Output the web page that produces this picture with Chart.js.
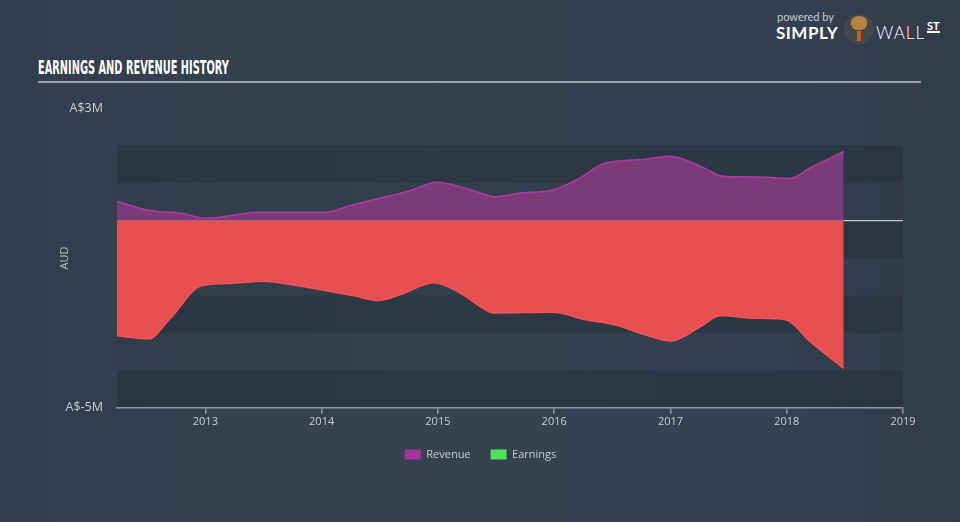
<!DOCTYPE html>
<html>
<head>
<meta charset="utf-8">
<script src="https://cdn.jsdelivr.net/npm/chart.js@4.4.0/dist/chart.umd.min.js"></script>
<style>
  html, body { margin: 0; padding: 0; }
  body {
    width: 960px; height: 522px; overflow: hidden; position: relative;
    background: linear-gradient(90deg, #323e4d 0%, #35424f 45%, #344151 80%, #313c49 100%);
    font-family: 'Open Sans', sans-serif;
  }
  #title {
    position: absolute; left: 38px; top: 55px;
    font-family: 'Liberation Sans Narrow', 'DejaVu Sans Condensed', sans-serif;
    font-weight: bold; font-size: 20px; color: #ffffff; white-space: nowrap;
    transform-origin: 0 0; letter-spacing: 0;
  }
  #rule { position: absolute; left: 38px; top: 81px; width: 883px; height: 2px; background: #9aa2ac; }
  #logo { position: absolute; left: 776px; top: 10px; width: 175px; height: 40px; color: #fff; }
  #logo .pb { position: absolute; left: 1px; top: 0px; font-size: 11px; color: #c6ccd3; font-family: 'Lato', sans-serif; }
  #logo .simply { position: absolute; left: 0; top: 12px; font-size: 17px; font-weight: bold; font-family: 'Lato', sans-serif; letter-spacing: 0.5px; }
  #logo .bull { position: absolute; left: 68px; top: 4px; width: 30px; height: 30px; border-radius: 50%; background: #44474c; }
  #logo .bull:before { content: ''; position: absolute; left: 7px; top: 2px; width: 16px; height: 14px; border-radius: 45%; background: #b7833d; }
  #logo .bull:after { content: ''; position: absolute; left: 13px; top: 17px; width: 4px; height: 10px; background: #d8552b; }
  #logo .wall { position: absolute; left: 100px; top: 12px; font-size: 17px; font-weight: 300; font-family: 'Lato', sans-serif; letter-spacing: 1px; }
  #logo .st { position: absolute; left: 151px; top: 10px; font-size: 11px; font-weight: bold; font-family: 'Lato', sans-serif; border-bottom: 2px solid #fff; line-height: 11px; }
  #wrap { position: absolute; left: 0; top: 0; width: 960px; height: 522px; }
</style>
</head>
<body>
<div id="title">EARNINGS AND REVENUE HISTORY</div>
<div id="rule"></div>
<div id="logo">
  <span class="pb">powered by</span>
  <span class="simply">SIMPLY</span>
  <span class="bull"></span>
  <span class="wall">WALL</span>
  <span class="st">ST</span>
</div>
<div id="wrap"><canvas id="chart" width="960" height="522"></canvas></div>
<script>
// Revenue (A$M)
const revenueYears = [2012.24, 2012.51, 2012.79, 2013.0, 2013.47, 2014.03, 2014.25, 2014.5, 2014.76, 2014.99,
  2015.36, 2015.48, 2015.71, 2015.99, 2016.22, 2016.44, 2016.74, 2017.0, 2017.26, 2017.47, 2017.77, 2018.03, 2018.2, 2018.49];
const revenueValues = [0.51, 0.27, 0.19, 0.06, 0.22, 0.22, 0.40, 0.59, 0.79, 1.02,
  0.74, 0.63, 0.73, 0.81, 1.13, 1.53, 1.62, 1.71, 1.44, 1.17, 1.16, 1.12, 1.40, 1.84];

// Earnings (A$M)
const earningsYears = [2012.24, 2012.51, 2012.7, 2012.96, 2013.21, 2013.5, 2013.73, 2014.07, 2014.29, 2014.49, 2014.68, 2014.96,
  2015.19, 2015.36, 2015.48, 2015.99, 2016.27, 2016.53, 2016.78, 2017.0, 2017.26, 2017.43, 2017.73, 2017.99, 2018.2, 2018.49];
const earningsValues = [-3.08, -3.16, -2.61, -1.75, -1.68, -1.62, -1.71, -1.89, -2.02, -2.14, -1.98, -1.66,
  -1.93, -2.29, -2.47, -2.45, -2.65, -2.79, -3.05, -3.22, -2.83, -2.54, -2.61, -2.65, -3.23, -3.95];

const xMin = 2012.24;
const xMax = 2019;
const yMin = -5;
const yMax = 3;
const yTickLabels = { '3': 'A$3M', '-5': 'A$-5M' };
const legendNames = ['Revenue', 'Earnings'];
const legendColors = ['#a8339b', '#4fe05b'];

// squeeze the title to the condensed width of the original
const titleEl = document.getElementById('title');
titleEl.style.transform = 'scaleX(' + (191 / titleEl.offsetWidth) + ')';

const toPoints = (xs, ys) => xs.map((x, i) => ({ x: x, y: ys[i] }));

// alternating horizontal bands behind the data
const bandPlugin = {
  id: 'bands',
  beforeDraw(chart) {
    const { ctx, chartArea, scales } = chart;
    const y = scales.y;
    ctx.save();
    for (let v = yMax - 1; v > yMin; v--) {
      const top = y.getPixelForValue(v);
      const bottom = y.getPixelForValue(v - 1);
      ctx.fillStyle = (yMax - 1 - v) % 2 === 0 ? 'rgba(24,32,44,0.28)' : 'rgba(24,32,44,0.06)';
      ctx.fillRect(chartArea.left, top, chartArea.right - chartArea.left, bottom - top);
    }
    ctx.restore();
  }
};

new Chart(document.getElementById('chart'), {
  type: 'line',
  data: {
    datasets: [
      {
        label: 'Revenue',
        data: toPoints(revenueYears, revenueValues),
        borderColor: '#b13aa5',
        backgroundColor: '#7b3a78',
        borderWidth: 1.5,
        fill: 'origin',
        pointRadius: 0,
        cubicInterpolationMode: 'monotone'
      },
      {
        label: 'Earnings',
        data: toPoints(earningsYears, earningsValues),
        borderColor: '#f5545a',
        backgroundColor: '#e84f51',
        borderWidth: 1.5,
        fill: 'origin',
        pointRadius: 0,
        cubicInterpolationMode: 'monotone'
      }
    ]
  },
  options: {
    responsive: false,
    animation: false,
    layout: { padding: { left: 58, right: 57, top: 108, bottom: 52 } },
    plugins: {
      tooltip: { enabled: false },
      legend: {
        position: 'bottom',
        labels: {
          boxWidth: 16,
          boxHeight: 10,
          padding: 20,
          color: '#c9cfd6',
          font: { family: 'Open Sans', size: 11 },
          generateLabels: () => legendNames.map((name, i) => ({
            text: name,
            fillStyle: legendColors[i],
            strokeStyle: legendColors[i],
            lineWidth: 0,
            fontColor: '#c9cfd6',
            datasetIndex: i
          }))
        }
      }
    },
    scales: {
      x: {
        type: 'linear',
        min: xMin,
        max: xMax,
        border: { display: true, color: '#8e99a6', width: 1.5 },
        grid: { drawOnChartArea: false, drawTicks: true, tickLength: 6, color: '#8e99a6', lineWidth: 1.5 },
        ticks: {
          stepSize: 1,
          includeBounds: false,
          padding: 1,
          color: '#c9cfd6',
          font: { family: 'Open Sans', size: 11 },
          callback: v => String(v),
          maxRotation: 0
        }
      },
      y: {
        min: yMin,
        max: yMax,
        afterFit: scale => { scale.width = 59; },
        border: { display: false },
        grid: {
          drawTicks: false,
          color: ctx => ctx.tick && ctx.tick.value === 0 ? '#c3c9cf' : 'rgba(0,0,0,0)',
          lineWidth: 1.2
        },
        title: {
          display: true,
          text: 'AUD',
          color: '#b9c0c8',
          font: { family: 'Open Sans', size: 11 },
          padding: 0
        },
        ticks: {
          stepSize: 1,
          padding: 14,
          color: '#c9cfd6',
          font: { family: 'Open Sans', size: 12.5 },
          autoSkip: false,
          callback: v => yTickLabels[String(v)] || ''
        }
      }
    }
  },
  plugins: [bandPlugin]
});
</script>
</body>
</html>
